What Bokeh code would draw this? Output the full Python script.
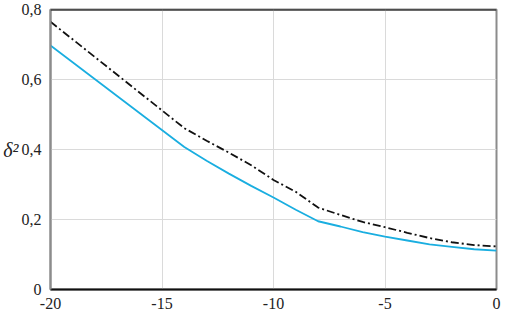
from bokeh.plotting import figure
from bokeh.models import Range1d, FixedTicker, CustomJSTickFormatter, Span
from bokeh.embed import file_html
from bokeh.resources import INLINE

# Data
x_vals = [-20, -14, -13, -12, -11, -10, -9, -8, -7, -6, -5, -4, -3, -2, -1, 0]
blue_vals = [0.697, 0.407, 0.368, 0.331, 0.296, 0.263, 0.228, 0.195, 0.180, 0.164,
             0.151, 0.140, 0.129, 0.122, 0.115, 0.111]
black_vals = [0.765, 0.461, 0.425, 0.391, 0.355, 0.313, 0.279, 0.234, 0.213, 0.193,
              0.178, 0.162, 0.147, 0.135, 0.127, 0.123]
x_ticks = [-20, -15, -10, -5, 0]
y_ticks = [0, 0.2, 0.4, 0.6, 0.8]

FONT = "Liberation Serif"

p = figure(width=502, height=311, output_backend="svg", toolbar_location=None,
           x_range=Range1d(-20, 0), y_range=Range1d(0, 0.8),
           min_border_left=44, min_border_right=6, min_border_top=9, min_border_bottom=22)

p.background_fill_color = "white"
p.border_fill_color = "white"
p.outline_line_color = "#8c8c8c"
p.outline_line_width = 2

p.xaxis.ticker = FixedTicker(ticks=x_ticks)
p.yaxis.ticker = FixedTicker(ticks=y_ticks)
p.xaxis.formatter = CustomJSTickFormatter(code="return String(Math.round(tick));")
p.yaxis.formatter = CustomJSTickFormatter(code="""
if (Math.abs(tick) < 1e-9) return '0';
return tick.toFixed(1).replace('.', ',');
""")

for ax in (p.xaxis[0], p.yaxis[0]):
    ax.major_tick_line_color = None
    ax.minor_tick_line_color = None
    ax.major_label_text_font = FONT
    ax.major_label_text_font_size = "16px"
    ax.major_label_text_font_style = "normal"
    ax.major_label_text_color = "#222222"
    ax.major_label_standoff = 2

p.xaxis.axis_line_color = "#111111"
p.xaxis.axis_line_width = 2
p.yaxis.axis_line_color = "#8c8c8c"
p.yaxis.axis_line_width = 2
p.yaxis.major_label_standoff = 3

p.xgrid.grid_line_color = "#dadada"
p.ygrid.grid_line_color = "#dadada"

top_span = Span(location=0.8, dimension="width", line_color="#111111", line_width=2)
p.add_layout(top_span)

p.line(x_vals, blue_vals, line_color="#1aaee0", line_width=1.8)
p.line(x_vals, black_vals, line_color="#111111", line_width=1.8, line_dash="8 3 2 3")

yax = p.yaxis[0]
yax.axis_label = "δ²"
yax.axis_label_orientation = "horizontal"
yax.axis_label_text_font = FONT
yax.axis_label_text_font_style = "italic"
yax.axis_label_text_font_size = "20px"
yax.axis_label_text_color = "#222222"
yax.axis_label_standoff = 0

open("out.html", "w").write(file_html(p, INLINE))
